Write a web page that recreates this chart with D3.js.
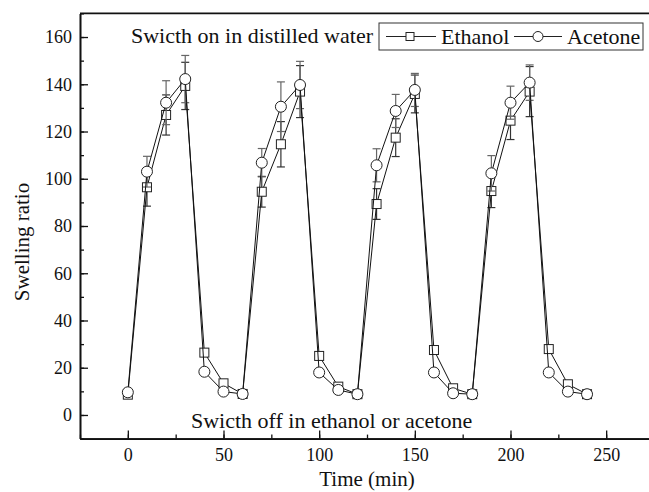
<!DOCTYPE html>
<html>
<head>
<meta charset="utf-8">
<script src="https://cdn.jsdelivr.net/npm/d3@7"></script>
<style>
  body { margin: 0; background: #fff; }
  svg text { font-family: "Liberation Serif", "Times New Roman", serif; fill: #111; }
</style>
</head>
<body>
<div id="chart"></div>
<script>
// time points (min)
var times = [0, 10, 20, 30, 40, 50, 60, 70, 80, 90, 100, 110, 120,
             130, 140, 150, 160, 170, 180, 190, 200, 210, 220, 230, 240];

var ethanol = [8.6, 96.4, 127, 139.3, 26.4, 13.4, 8.9, 94.5, 114.6, 136.9, 25, 12, 8.8,
               89.3, 117.4, 135.9, 27.5, 11.3, 8.8, 94.8, 124.6, 136.9, 27.9, 13, 8.8];
var ethanolErr = [1.5, 8, 8.5, 10, 1.5, 1.5, 1, 6.5, 9.6, 11, 1.5, 1.5, 1,
                  6.5, 8, 8, 1.5, 1.5, 1, 7, 8, 10.6, 1.5, 1.5, 1];

var acetone = [9.6, 103, 132.2, 142.2, 18.3, 9.9, 8.9, 106.8, 130.5, 139.7, 18, 10.6, 8.8,
               105.7, 128.7, 137.6, 18, 9.2, 8.8, 102.3, 132.2, 140.7, 18, 9.9, 8.8];
var acetoneErr = [1.5, 6.5, 9.3, 10, 1.5, 1.5, 1, 6, 10.5, 10, 1.5, 1.5, 1,
                  7, 7, 7, 1.5, 1.5, 1, 7.5, 7, 7.5, 1.5, 1.5, 1];

var xTicks = [0, 50, 100, 150, 200, 250];
var yTicks = [0, 20, 40, 60, 80, 100, 120, 140, 160];

var width = 649, height = 492;
var svg = d3.select("#chart").append("svg")
  .attr("width", width)
  .attr("height", height);

var x = d3.scaleLinear().domain([-25, 275]).range([80, 654]);
var y = d3.scaleLinear().domain([-10, 170]).range([438.6, 13.4]);

// axes, ticks point inward
svg.append("g").attr("transform", "translate(0," + y(-10) + ")")
  .call(d3.axisBottom(x).tickValues(d3.range(-25, 276, 25)).tickSizeInner(-4).tickSizeOuter(0).tickFormat(""));
svg.append("g").attr("transform", "translate(0," + y(-10) + ")")
  .call(d3.axisBottom(x).tickValues(xTicks).tickSizeInner(-8).tickSizeOuter(0).tickPadding(10));

svg.append("g").attr("transform", "translate(" + x(-25) + ",0)")
  .call(d3.axisLeft(y).tickValues(d3.range(-10, 171, 10)).tickSizeInner(-4).tickSizeOuter(0).tickFormat(""));
svg.append("g").attr("transform", "translate(" + x(-25) + ",0)")
  .call(d3.axisLeft(y).tickValues(yTicks).tickSizeInner(-8).tickSizeOuter(0).tickPadding(8));

svg.selectAll("g").attr("font-family", null).attr("font-size", null);
svg.selectAll(".domain").style("stroke", "#111").style("stroke-width", 1.6);
svg.selectAll(".tick line").style("stroke", "#111").style("stroke-width", 1.3);
svg.selectAll(".tick text").style("font-size", "18px");

// top frame
svg.append("line")
  .attr("x1", x(-25)).attr("x2", x(275))
  .attr("y1", y(170)).attr("y2", y(170))
  .style("stroke", "#111").style("stroke-width", 1.6);

var drawSeries = function(vals, errs, shape, errColor) {
  var pts = times.map(function(t, i) { return { t: t, v: vals[i], e: errs[i] }; });

  var g = svg.append("g");
  g.selectAll("line.err").data(pts).enter().append("line")
    .attr("x1", function(d) { return x(d.t); })
    .attr("x2", function(d) { return x(d.t); })
    .attr("y1", function(d) { return y(d.v - d.e); })
    .attr("y2", function(d) { return y(d.v + d.e); })
    .style("stroke", errColor).style("stroke-width", 1.2);
  [-1, 1].forEach(function(s) {
    g.selectAll("line.cap" + s).data(pts).enter().append("line")
      .attr("x1", function(d) { return x(d.t) - 4; })
      .attr("x2", function(d) { return x(d.t) + 4; })
      .attr("y1", function(d) { return y(d.v + s * d.e); })
      .attr("y2", function(d) { return y(d.v + s * d.e); })
      .style("stroke", errColor).style("stroke-width", 1.2);
  });

  g.append("path").datum(pts)
    .attr("d", d3.line().x(function(d) { return x(d.t); }).y(function(d) { return y(d.v); }))
    .style("fill", "none").style("stroke", "#111").style("stroke-width", 1);

  if (shape === "square") {
    g.selectAll("rect").data(pts).enter().append("rect")
      .attr("x", function(d) { return x(d.t) - 4.5; })
      .attr("y", function(d) { return y(d.v) - 4.5; })
      .attr("width", 9).attr("height", 9)
      .style("fill", "#fff").style("stroke", "#222").style("stroke-width", 1);
  } else {
    g.selectAll("circle").data(pts).enter().append("circle")
      .attr("cx", function(d) { return x(d.t); })
      .attr("cy", function(d) { return y(d.v); })
      .attr("r", 5.5)
      .style("fill", "#fff").style("stroke", "#222").style("stroke-width", 1);
  }
};

drawSeries(ethanol, ethanolErr, "square", "#333");
drawSeries(acetone, acetoneErr, "circle", "#666");

// annotations
svg.append("text").attr("x", 131).attr("y", 43)
  .style("font-size", "22px").text("Swicth on in distilled water");
svg.append("text").attr("x", 191).attr("y", 428)
  .style("font-size", "22px").text("Swicth off in ethanol or acetone");

// axis titles
svg.append("text").attr("x", (x(-25) + x(275)) / 2).attr("y", 486)
  .attr("text-anchor", "middle").style("font-size", "21px").text("Time (min)");
svg.append("text").attr("transform", "translate(29,242) rotate(-90)")
  .attr("text-anchor", "middle").style("font-size", "21px").text("Swelling ratio");

// legend
var legend = svg.append("g");
legend.append("rect").attr("x", 379).attr("y", 23).attr("width", 264).attr("height", 27)
  .style("fill", "#fff").style("stroke", "#333").style("stroke-width", 1);
legend.append("line").attr("x1", 386).attr("x2", 436).attr("y1", 36.5).attr("y2", 36.5)
  .style("stroke", "#222").style("stroke-width", 1);
legend.append("rect").attr("x", 406).attr("y", 32.5).attr("width", 8).attr("height", 8)
  .style("fill", "#fff").style("stroke", "#222").style("stroke-width", 1);
legend.append("text").attr("x", 441).attr("y", 44).style("font-size", "22px").text("Ethanol");
legend.append("line").attr("x1", 514).attr("x2", 562).attr("y1", 36.5).attr("y2", 36.5)
  .style("stroke", "#222").style("stroke-width", 1);
legend.append("circle").attr("cx", 538).attr("cy", 36.5).attr("r", 5)
  .style("fill", "#fff").style("stroke", "#222").style("stroke-width", 1);
legend.append("text").attr("x", 567).attr("y", 44).style("font-size", "22px").text("Acetone");
</script>
</body>
</html>
